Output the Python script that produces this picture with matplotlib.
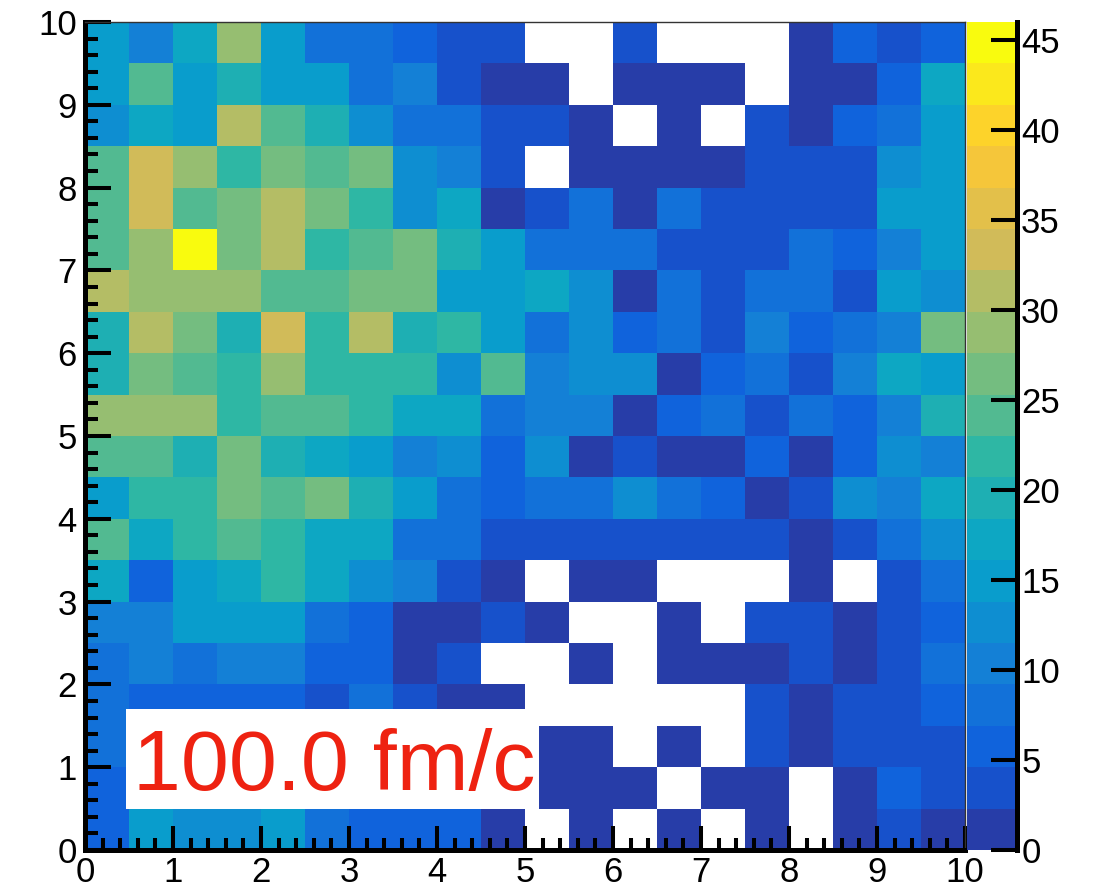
import numpy as np
import matplotlib
matplotlib.use("Agg")
import matplotlib.pyplot as plt
from matplotlib.colors import LinearSegmentedColormap, ListedColormap, BoundaryNorm
from matplotlib.patches import Rectangle

plt.rcParams["font.family"] = ["Liberation Sans", "DejaVu Sans"]

# bin counts, 20x20 bins on [0,10]x[0,10]; first list is the top row (y 9.5-10)
counts = [
    [15, 10, 17, 29, 15, 8, 8, 6, 3, 3, 0, 0, 4, 0, 0, 0, 1, 5, 3, 6],
    [15, 24, 14, 20, 15, 16, 8, 10, 4, 2, 1, 0, 2, 1, 2, 0, 1, 2, 6, 17],
    [13, 18, 15, 31, 24, 20, 12, 9, 8, 3, 4, 1, 0, 2, 0, 3, 1, 5, 8, 15],
    [25, 33, 28, 22, 26, 24, 27, 13, 11, 4, 0, 2, 1, 1, 2, 3, 4, 3, 12, 14],
    [24, 34, 25, 27, 31, 26, 21, 12, 17, 2, 3, 8, 1, 9, 4, 3, 4, 3, 15, 16],
    [24, 29, 46, 26, 31, 22, 24, 27, 19, 15, 8, 8, 9, 3, 4, 3, 8, 6, 10, 15],
    [31, 28, 29, 28, 24, 25, 26, 27, 15, 16, 17, 13, 2, 8, 4, 9, 8, 3, 15, 12],
    [20, 32, 26, 19, 33, 21, 31, 20, 22, 15, 8, 12, 6, 9, 4, 11, 6, 8, 10, 26],
    [19, 27, 24, 22, 28, 21, 22, 21, 13, 24, 10, 12, 13, 2, 6, 8, 3, 10, 17, 14],
    [28, 29, 28, 22, 24, 25, 21, 17, 18, 8, 11, 10, 1, 5, 9, 4, 8, 6, 10, 20],
    [24, 25, 20, 26, 19, 17, 15, 10, 13, 6, 12, 1, 4, 2, 1, 6, 2, 5, 13, 11],
    [15, 22, 21, 27, 24, 26, 19, 14, 8, 6, 9, 8, 12, 8, 6, 2, 4, 13, 10, 17],
    [25, 17, 22, 24, 21, 18, 17, 9, 8, 4, 3, 4, 3, 4, 3, 4, 2, 3, 8, 12],
    [17, 5, 15, 18, 22, 17, 13, 10, 4, 2, 0, 1, 2, 0, 0, 0, 1, 0, 4, 8],
    [10, 11, 14, 15, 15, 8, 6, 2, 1, 3, 2, 0, 0, 1, 0, 4, 3, 2, 4, 6],
    [8, 10, 9, 11, 10, 6, 5, 1, 3, 0, 0, 2, 0, 1, 2, 1, 3, 1, 4, 8],
    [9, 5, 6, 6, 5, 4, 8, 3, 1, 2, 0, 0, 0, 0, 0, 3, 1, 4, 3, 5],
    [8, 6, 5, 4, 4, 3, 2, 1, 1, 0, 2, 1, 0, 1, 0, 4, 2, 4, 3, 3],
    [6, 7, 6, 5, 4, 3, 1, 0, 1, 2, 1, 2, 1, 0, 2, 1, 0, 2, 6, 4],
    [6, 14, 12, 13, 15, 9, 5, 6, 6, 2, 0, 1, 0, 2, 0, 1, 0, 2, 4, 1],
]
x_edges = np.linspace(0, 10, 21)
y_edges = np.linspace(0, 10, 21)
label = "100.0 fm/c"
n_contours = 20
z_ticks = list(range(0, 46, 5))

# kBird palette, sampled the way COLZ picks one colour per contour
bird_stops = [0.0, 0.125, 0.25, 0.375, 0.5, 0.625, 0.75, 0.875, 1.0]
bird_r = [0.2082, 0.0592, 0.0780, 0.0232, 0.1802, 0.5301, 0.8186, 0.9956, 0.9764]
bird_g = [0.1664, 0.3599, 0.5041, 0.6419, 0.7178, 0.7492, 0.7328, 0.7862, 0.9832]
bird_b = [0.5293, 0.8684, 0.8385, 0.7914, 0.6425, 0.4662, 0.3499, 0.1968, 0.0539]
bird = LinearSegmentedColormap.from_list(
    "bird", list(zip(bird_stops, zip(bird_r, bird_g, bird_b))), N=255)
cmap = ListedColormap([bird(int((i + 0.99) * 255 / n_contours)) for i in range(n_contours)])

z = np.ma.masked_equal(np.array(counts[::-1], dtype=float), 0)
zmax = z.max()
levels = np.linspace(0, zmax, n_contours + 1)
norm = BoundaryNorm(levels, n_contours)

fig = plt.figure(figsize=(11.03, 8.88), dpi=100)
W, H = 1103, 888
ax = fig.add_axes([85 / W, 1 - 850 / H, 880 / W, 828 / H])
mesh = ax.pcolormesh(x_edges, y_edges, z, cmap=cmap, norm=norm,
                     edgecolors="none", antialiased=False)
ax.set_xlim(0, 10)
ax.set_ylim(0, 10)

ax.set_xticks(range(0, 11))
ax.set_yticks(range(0, 11))
ax.set_xticks(np.arange(0, 10.01, 0.2), minor=True)
ax.set_yticks(np.arange(0, 10.01, 0.2), minor=True)
ax.tick_params(axis="both", which="both", direction="in", width=2.9,
               top=False, right=False, labelsize=25)
ax.tick_params(axis="x", which="major", length=17, pad=4)
ax.tick_params(axis="x", which="minor", length=9)
ax.tick_params(axis="y", which="major", length=19, pad=6)
ax.tick_params(axis="y", which="minor", length=9)
for side in ["left", "bottom"]:
    ax.spines[side].set_linewidth(3.6)
for side in ["top", "right"]:
    ax.spines[side].set_linewidth(1.0)
    ax.spines[side].set_color("#333333")

# time stamp box
ax.add_patch(Rectangle((0.466, 0.495), 4.694, 1.205, facecolor="white",
                       edgecolor="none", zorder=3))
ax.text(0.545, 0.725, label, color="#ee2211", fontsize=62,
        ha="left", va="baseline", zorder=4)

# palette axis: one band per contour level
cax = fig.add_axes([967 / W, 1 - 850 / H, 50 / W, 828 / H])
band_mid = 0.5 * (levels[:-1] + levels[1:])
cax.pcolormesh([0, 1], levels, band_mid[:, None], cmap=cmap, norm=norm,
               edgecolors="none", antialiased=False)
cax.set_xlim(0, 1)
cax.set_ylim(0, zmax)
cax.set_xticks([])
cax.set_yticks(z_ticks)
cax.yaxis.tick_right()
cax.tick_params(axis="y", which="major", direction="in", length=19, width=2.9,
                labelsize=25, pad=3)
for side in ["left", "top", "bottom"]:
    cax.spines[side].set_visible(False)
cax.spines["right"].set_linewidth(3.6)

fig.savefig("out.png", dpi=100)
